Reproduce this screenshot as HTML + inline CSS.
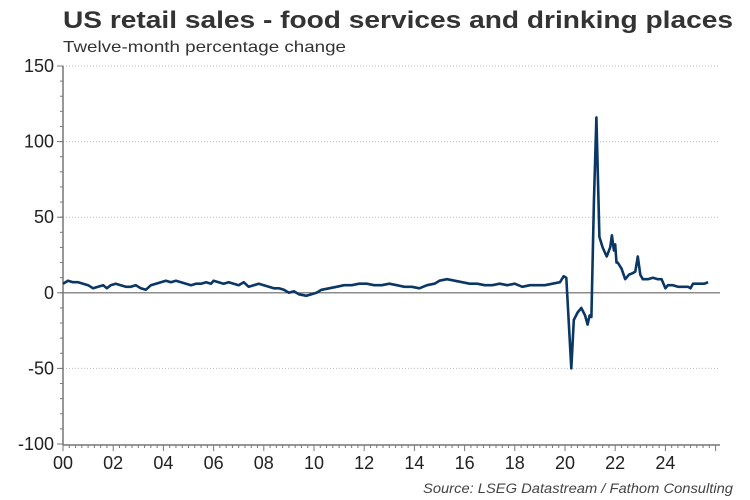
<!DOCTYPE html>
<html><head><meta charset="utf-8"><style>
html,body{margin:0;padding:0;background:#fff;}
svg{display:block;font-family:"Liberation Sans",Arial,sans-serif;}
</style></head><body>
<svg id="chart" width="750" height="500" viewBox="0 0 750 500">
<text x="63" y="28" font-size="24" font-weight="bold" fill="#333" textLength="670" lengthAdjust="spacingAndGlyphs">US retail sales - food services and drinking places</text>
<text x="63" y="52" font-size="16" fill="#333" textLength="283" lengthAdjust="spacingAndGlyphs">Twelve-month percentage change</text>
<g id="grid"></g>
<g id="axes"></g>
<path id="line" fill="none" stroke="#0b3764" stroke-width="2.6" stroke-linejoin="round"/>
<text x="733" y="493" font-size="13.5" font-style="italic" fill="#444" text-anchor="end" textLength="310" lengthAdjust="spacingAndGlyphs">Source: LSEG Datastream / Fathom Consulting</text>
</svg>
<script>
const yTicks=[150,100,50,0,-50,-100];
const xTickLabels=["00","02","04","06","08","10","12","14","16","18","20","22","24"];
const dates=[2000,2000.2,2000.4,2000.6,2000.8,2001,2001.2,2001.4,2001.6,2001.75,2001.9,2002.1,2002.3,2002.5,2002.7,2002.9,2003.1,2003.3,2003.5,2003.7,2003.9,2004.1,2004.3,2004.5,2004.7,2004.9,2005.1,2005.3,2005.5,2005.7,2005.9,2006,2006.2,2006.4,2006.6,2006.8,2007,2007.2,2007.4,2007.6,2007.8,2008,2008.2,2008.4,2008.6,2008.8,2009,2009.2,2009.4,2009.7,2009.9,2010.1,2010.3,2010.6,2010.9,2011.2,2011.5,2011.8,2012.1,2012.4,2012.7,2013,2013.3,2013.6,2013.9,2014.2,2014.5,2014.8,2015,2015.3,2015.6,2015.9,2016.2,2016.5,2016.8,2017.1,2017.4,2017.7,2018,2018.3,2018.6,2018.9,2019.2,2019.5,2019.8,2019.95,2020.05,2020.15,2020.25,2020.35,2020.5,2020.65,2020.8,2020.9,2020.98,2021.05,2021.15,2021.25,2021.37,2021.5,2021.66,2021.8,2021.87,2021.95,2022.0,2022.05,2022.1,2022.25,2022.4,2022.55,2022.7,2022.8,2022.9,2023.0,2023.1,2023.3,2023.5,2023.7,2023.85,2024.0,2024.1,2024.3,2024.5,2024.7,2024.9,2025.0,2025.1,2025.25,2025.4,2025.55,2025.7];
const values=[6,8,7,7,6,5,3,4,5,3,5,6,5,4,4,5,3,2,5,6,7,8,7,8,7,6,5,6,6,7,6,8,7,6,7,6,5,7,4,5,6,5,4,3,3,2,0,1,-1,-2,-1,0,2,3,4,5,5,6,6,5,5,6,5,4,4,3,5,6,8,9,8,7,6,6,5,5,6,5,6,4,5,5,5,6,7,11,10,-20,-50,-18,-13,-10,-15,-21,-15,-16,60,116,37,30,24,30,38,28,32,20,20,16,9,12,13,14,24,12,9,9,10,9,9,3,5,5,4,4,4,3,6,6,6,6,7];
const X0=63,X1=720,Y0=66,Y1=444;
const xs=d=>X0+(d-2000)*25.1;
const ys=v=>Y0+(150-v)*(Y1-Y0)/250;
const NS="http://www.w3.org/2000/svg";
const grid=document.getElementById('grid'),axes=document.getElementById('axes');
function mk(tag,attrs,parent){const e=document.createElementNS(NS,tag);for(const k in attrs)e.setAttribute(k,attrs[k]);parent.appendChild(e);return e;}
yTicks.forEach(v=>{
  if(v!==0&&v!==-100){const g=mk('line',{x1:X0,x2:X1,y1:ys(v),y2:ys(v),stroke:'#bbb','stroke-width':1,'stroke-dasharray':'1,2'},grid);
  
  }
  const t=mk('text',{x:X0-9,y:ys(v)+6,'font-size':18,'text-anchor':'end',fill:'#222'},axes);
  t.textContent=v;
  
  
  mk('line',{x1:X0-6,x2:X0,y1:ys(v),y2:ys(v),stroke:'#777','stroke-width':1},axes);
});
for(let v=-100;v<=150;v+=10){mk('line',{x1:X0-3,x2:X0,y1:ys(v),y2:ys(v),stroke:'#777','stroke-width':1},axes);}
const zl=mk('line',{x1:X0,x2:X1,y1:ys(0),y2:ys(0),stroke:'#666','stroke-width':1.2},axes);


mk('line',{x1:X0,x2:X0,y1:Y0,y2:Y1+1,stroke:'#777','stroke-width':1.5},axes);
mk('line',{x1:X0,x2:X1,y1:Y1+1,y2:Y1+1,stroke:'#777','stroke-width':1.5},axes);
for(let q=0;q<=104;q++){const d=2000+q/4;if(xs(d)>X1)break;const major=q%8===0;
  mk('line',{x1:xs(d),x2:xs(d),y1:Y1+1,y2:Y1+(major?7:4),stroke:'#777','stroke-width':1},axes);}
xTickLabels.forEach((l,i)=>{const t=mk('text',{x:xs(2000+2*i),y:Y1+25,'font-size':18,'text-anchor':'middle',fill:'#222'},axes);
  t.textContent=l;
  
  });
document.getElementById('line').setAttribute('d',dates.map((d,i)=>(i?'L':'M')+xs(d).toFixed(1)+','+ys(values[i]).toFixed(1)).join(''));
</script>
</body></html>
